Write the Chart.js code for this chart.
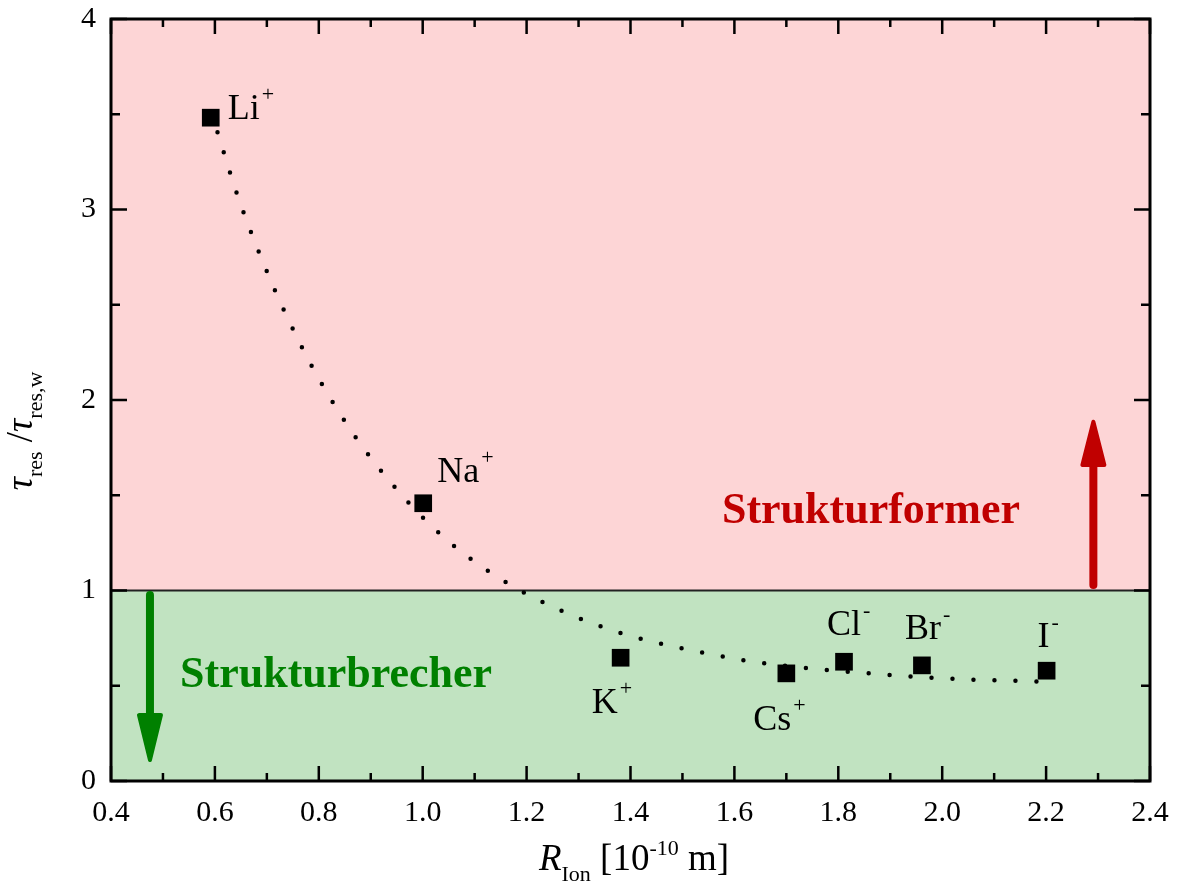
<!DOCTYPE html>
<html>
<head>
<meta charset="utf-8">
<script src="https://cdn.jsdelivr.net/npm/chart.js@4.4.1/dist/chart.umd.min.js"></script>
<style>
  html, body { margin: 0; padding: 0; background: #fff; }
</style>
</head>
<body>
<canvas id="chart" width="1179" height="893"></canvas>
<script>
// ion radius [10^-10 m] and relative residence time
var ionNames   = ['Li', 'Na', 'K', 'Cs', 'Cl', 'Br', 'I'];
var ionCharges = ['+', '+', '+', '+', '-', '-', '-'];
var ionRadius  = [0.592, 1.001, 1.381, 1.700, 1.811, 1.961, 2.201];
var tauRatio   = [3.482, 1.458, 0.647, 0.565, 0.626, 0.607, 0.579];

// dotted guide curve
var fitRadius = [0.605, 0.643, 0.688, 0.740, 0.801, 0.876, 0.974, 1.051, 1.129, 1.209, 1.289,
                 1.367, 1.447, 1.526, 1.606, 1.684, 1.764, 1.842, 1.922, 2.001, 2.080, 2.159, 2.199];
var fitRatio  = [3.405, 3.078, 2.754, 2.430, 2.107, 1.785, 1.458, 1.255, 1.097, 0.969, 0.868,
                 0.789, 0.728, 0.681, 0.639, 0.609, 0.586, 0.569, 0.551, 0.539, 0.530, 0.525, 0.521];

var xTickValues = [0.4, 0.6, 0.8, 1.0, 1.2, 1.4, 1.6, 1.8, 2.0, 2.2, 2.4];
var yTickValues = [0, 1, 2, 3, 4];

var SERIF = '"Liberation Serif", "Times New Roman", serif';

function drawRich(ctx, parts, x, y, align) {
    var w = 0;
    parts.forEach(function (p) { ctx.font = p.f; w += ctx.measureText(p.t).width + (p.dx || 0); });
    var cx = align === 'center' ? x - w / 2 : x;
    ctx.textAlign = 'left';
    ctx.textBaseline = 'alphabetic';
    parts.forEach(function (p) {
        ctx.font = p.f;
        cx += p.dx || 0;
        ctx.fillText(p.t, cx, y + (p.dy || 0));
        cx += ctx.measureText(p.t).width;
    });
}

function drawArrow(ctx, x, y0, yBase, yTip, color, half) {
    ctx.save();
    ctx.strokeStyle = color;
    ctx.fillStyle = color;
    ctx.lineCap = 'round';
    ctx.lineWidth = 8;
    ctx.beginPath();
    ctx.moveTo(x, y0);
    ctx.lineTo(x, yBase);
    ctx.stroke();
    ctx.lineJoin = 'round';
    ctx.lineWidth = 4;
    ctx.beginPath();
    ctx.moveTo(x - half, yBase);
    ctx.lineTo(x + half, yBase);
    ctx.lineTo(x, yTip);
    ctx.closePath();
    ctx.fill();
    ctx.stroke();
    ctx.restore();
}

var decor = {
    id: 'decor',
    beforeDatasetsDraw: function (chart) {
        var ctx = chart.ctx, a = chart.chartArea;
        var xs = chart.scales.x, ys = chart.scales.y;
        var y1 = ys.getPixelForValue(1);
        ctx.save();
        // regions
        ctx.fillStyle = '#fdd5d6';
        ctx.fillRect(a.left, a.top, a.right - a.left, y1 - a.top);
        ctx.fillStyle = '#c1e3c1';
        ctx.fillRect(a.left, y1, a.right - a.left, a.bottom - y1);
        ctx.strokeStyle = '#222';
        ctx.lineWidth = 2;
        ctx.beginPath();
        ctx.moveTo(a.left, y1);
        ctx.lineTo(a.right, y1);
        ctx.stroke();

        // region captions
        ctx.fillStyle = '#c00000';
        ctx.font = 'bold 44px ' + SERIF;
        ctx.textAlign = 'left';
        ctx.textBaseline = 'alphabetic';
        ctx.fillText('Strukturformer', xs.getPixelForValue(1.576), ys.getPixelForValue(1.354));
        ctx.fillStyle = '#008000';
        ctx.fillText('Strukturbrecher', xs.getPixelForValue(0.533), ys.getPixelForValue(0.493));

        // arrows
        drawArrow(ctx, xs.getPixelForValue(0.475), ys.getPixelForValue(0.976),
                  ys.getPixelForValue(0.346), ys.getPixelForValue(0.11), '#008000', 11);
        drawArrow(ctx, xs.getPixelForValue(2.291), ys.getPixelForValue(1.029),
                  ys.getPixelForValue(1.659), ys.getPixelForValue(1.886), '#c00000', 11);
        ctx.restore();
    },
    afterDatasetsDraw: function (chart) {
        var ctx = chart.ctx;
        var xs = chart.scales.x, ys = chart.scales.y;
        // label offsets relative to marker centre
        var off = [[17, 1], [14, -21], [-29, 55], [-33, 57], [-17, -27], [-17, -26], [-9, -24]];
        ctx.save();
        ctx.fillStyle = '#000';
        ionNames.forEach(function (name, i) {
            var px = xs.getPixelForValue(ionRadius[i]) + off[i][0];
            var py = ys.getPixelForValue(tauRatio[i]) + off[i][1];
            drawRich(ctx, [
                { t: name, f: '36px ' + SERIF },
                { t: ionCharges[i], f: '22px ' + SERIF, dy: -18, dx: 2 }
            ], px, py, 'left');
        });
        ctx.restore();
    },
    afterDraw: function (chart) {
        var ctx = chart.ctx, a = chart.chartArea;
        var xs = chart.scales.x, ys = chart.scales.y;
        ctx.save();
        ctx.strokeStyle = '#000';
        ctx.lineWidth = 2.5;
        ctx.lineCap = 'butt';
        var i, p, len;
        // x ticks (bottom + top, inward)
        for (i = 0; i <= 20; i++) {
            p = xs.getPixelForValue(0.4 + i * 0.1);
            len = i % 2 === 0 ? 15 : 8;
            ctx.beginPath();
            ctx.moveTo(p, a.bottom); ctx.lineTo(p, a.bottom - len);
            ctx.moveTo(p, a.top); ctx.lineTo(p, a.top + len);
            ctx.stroke();
        }
        // y ticks (left + right, inward)
        for (i = 0; i <= 8; i++) {
            p = ys.getPixelForValue(i * 0.5);
            len = i % 2 === 0 ? 16 : 9;
            ctx.beginPath();
            ctx.moveTo(a.left, p); ctx.lineTo(a.left + len, p);
            ctx.moveTo(a.right, p); ctx.lineTo(a.right - len, p);
            ctx.stroke();
        }
        // frame
        ctx.lineWidth = 3;
        ctx.strokeRect(a.left, a.top, a.right - a.left, a.bottom - a.top);

        // axis titles
        ctx.fillStyle = '#000';
        drawRich(ctx, [
            { t: 'R', f: 'italic 37px ' + SERIF },
            { t: 'Ion', f: '22px ' + SERIF, dy: 11 },
            { t: ' [10', f: '37px ' + SERIF },
            { t: '-10', f: '22px ' + SERIF, dy: -15 },
            { t: ' m]', f: '37px ' + SERIF }
        ], 634, 870, 'center');

        ctx.translate(32, 431);
        ctx.rotate(-Math.PI / 2);
        drawRich(ctx, [
            { t: '\u03c4', f: 'italic 37px ' + SERIF },
            { t: 'res', f: '22px ' + SERIF, dy: 10 },
            { t: ' /', f: '37px ' + SERIF },
            { t: '\u03c4', f: 'italic 37px ' + SERIF },
            { t: 'res,w', f: '22px ' + SERIF, dy: 10 }
        ], 0, 0, 'center');
        ctx.restore();
    }
};

new Chart(document.getElementById('chart').getContext('2d'), {
    type: 'scatter',
    data: {
        datasets: [{
            label: 'fit',
            data: fitRadius.map(function (x, i) { return { x: x, y: fitRatio[i] }; }),
            showLine: true,
            borderColor: '#000',
            borderWidth: 4.5,
            borderDash: [0, 21],
            borderCapStyle: 'round',
            cubicInterpolationMode: 'monotone',
            pointRadius: 0,
            pointHoverRadius: 0,
            order: 2
        }, {
            label: 'ions',
            data: ionRadius.map(function (x, i) { return { x: x, y: tauRatio[i] }; }),
            pointStyle: 'rect',
            pointRadius: 12.5,
            pointHoverRadius: 12.5,
            pointBorderWidth: 0,
            pointBackgroundColor: '#000',
            order: 1
        }]
    },
    options: {
        responsive: false,
        animation: false,
        devicePixelRatio: 1,
        layout: { padding: { top: 19, right: 29, left: 0, bottom: 0 } },
        plugins: { legend: { display: false }, tooltip: { enabled: false } },
        scales: {
            x: {
                type: 'linear',
                min: 0.4, max: 2.4,
                grid: { display: false, drawTicks: false },
                border: { display: false },
                afterBuildTicks: function (s) { s.ticks = xTickValues.map(function (v) { return { value: v }; }); },
                afterFit: function (s) { s.height = 112; s.paddingLeft = 0; s.paddingRight = 0; },
                ticks: {
                    padding: 14,
                    color: '#000',
                    font: { family: SERIF, size: 30 },
                    maxRotation: 0,
                    callback: function (v) { return Number(v).toFixed(1); }
                }
            },
            y: {
                type: 'linear',
                min: 0, max: 4,
                grid: { display: false, drawTicks: false },
                border: { display: false },
                afterBuildTicks: function (s) { s.ticks = yTickValues.map(function (v) { return { value: v }; }); },
                afterFit: function (s) { s.width = 111; s.paddingTop = 0; s.paddingBottom = 0; },
                ticks: {
                    padding: 15,
                    color: '#000',
                    font: { family: SERIF, size: 30 },
                    callback: function (v) { return String(v); }
                }
            }
        }
    },
    plugins: [decor]
});
</script>
</body>
</html>
